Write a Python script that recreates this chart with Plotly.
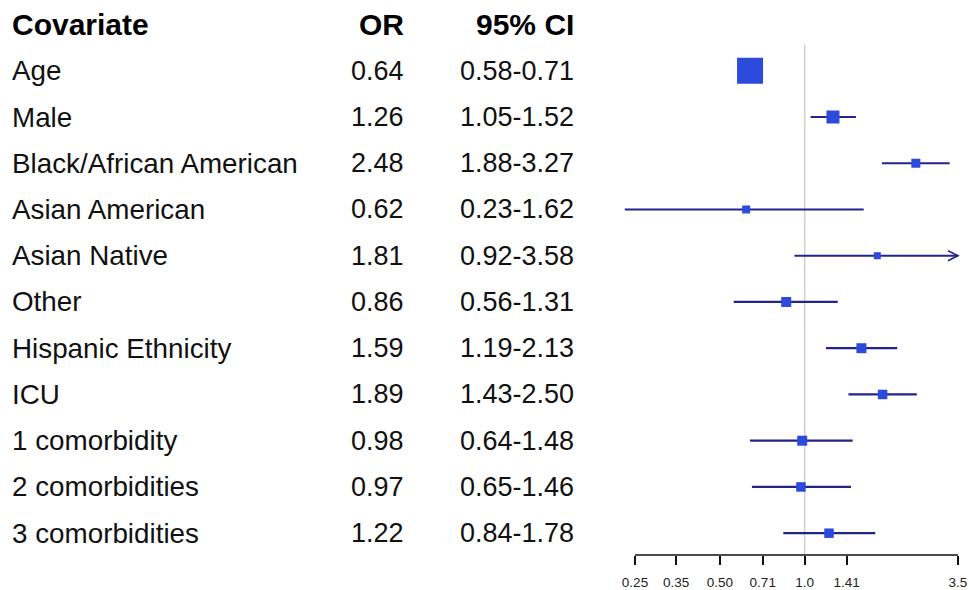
import math
import plotly.graph_objects as go

# ---- data ----
covariates = ["Age", "Male", "Black/African American", "Asian American", "Asian Native",
              "Other", "Hispanic Ethnicity", "ICU", "1 comorbidity", "2 comorbidities",
              "3 comorbidities"]
or_vals = [0.64, 1.26, 2.48, 0.62, 1.81, 0.86, 1.59, 1.89, 0.98, 0.97, 1.22]
ci_low = [0.58, 1.05, 1.88, 0.23, 0.92, 0.56, 1.19, 1.43, 0.64, 0.65, 0.84]
ci_high = [0.71, 1.52, 3.27, 1.62, 3.58, 1.31, 2.13, 2.50, 1.48, 1.46, 1.78]
tick_vals = [0.25, 0.35, 0.50, 0.71, 1.0, 1.41, 3.5]
tick_text = ["0.25", "0.35", "0.50", "0.71", "1.0", "1.41", "3.5"]
headers = ["Covariate", "OR", "95% CI"]

# ---- styles ----
marker_sizes = [26, 13, 9, 8, 7, 10, 10, 9.5, 10, 9.5, 9.5]
LINE_COLOR = "#23238c"
BOX_COLOR = "#2c4bdc"
FONT = "Liberation Sans, Arial, sans-serif"
W, H = 969, 590
col_font_sizes = [27.8, 27, 27]

# pixel layout of the forest panel
px_lo, px_hi = 635.0, 958.0          # pixel of first/last tick
x_min, x_max = 0.2, 3.8              # axis range (data)
ppl = (px_hi - px_lo) / (math.log10(tick_vals[-1]) - math.log10(tick_vals[0]))
dom_l = px_lo - ppl * (math.log10(tick_vals[0]) - math.log10(x_min))
dom_r = px_hi + ppl * (math.log10(x_max) - math.log10(tick_vals[-1]))

rows = list(range(len(covariates)))
clip_hi = tick_vals[-1]

# CI segments
seg_x, seg_y = [], []
for i, (lo, hi) in enumerate(zip(ci_low, ci_high)):
    seg_x += [lo, min(hi, clip_hi), None]
    seg_y += [i, i, None]

fig = go.Figure()
fig.add_trace(go.Scatter(x=seg_x, y=seg_y, mode="lines",
                         line=dict(color=LINE_COLOR, width=2.2),
                         hoverinfo="skip", showlegend=False, cliponaxis=False))
fig.add_trace(go.Scatter(x=or_vals, y=rows, mode="markers",
                         marker=dict(symbol="square", size=marker_sizes, color=BOX_COLOR,
                                     opacity=1, line=dict(width=0)),
                         showlegend=False, cliponaxis=False))

shapes = []
# reference line at 1
shapes.append(dict(type="line", xref="x", yref="y", x0=1, x1=1, y0=-0.56, y1=10.5,
                   line=dict(color="#cfcfcf", width=1.5), layer="below"))
# axis line from first to last tick
shapes.append(dict(type="line", xref="x", yref="y domain", x0=tick_vals[0], x1=tick_vals[-1],
                   y0=0, y1=0, line=dict(color="#111", width=1.5)))
# arrow heads for clipped CIs
for i, hi in enumerate(ci_high):
    if hi > clip_hi:
        shapes.append(dict(type="path", xref="x", yref="y", xsizemode="pixel",
                           ysizemode="pixel", xanchor=clip_hi, yanchor=i,
                           path="M -10,-5 L 0,0 L -10,5",
                           line=dict(color=LINE_COLOR, width=1.6)))

annotations = []
hx = [10, 406, 576]
for j, (h, x) in enumerate(zip(headers, hx)):
    annotations.append(dict(text="<b>%s</b>" % h, x=x / W, xref="paper", y=-1, yref="y",
                            xanchor="left" if j == 0 else "right", yanchor="middle",
                            showarrow=False, font=dict(family=FONT, size=30, color="#000")))
for i, name in enumerate(covariates):
    vals = [name, "%.2f" % or_vals[i], "%.2f-%.2f" % (ci_low[i], ci_high[i])]
    for j, (v, x) in enumerate(zip(vals, hx)):
        annotations.append(dict(text=v, x=x / W, xref="paper", y=i, yref="y",
                                xanchor="left" if j == 0 else "right", yanchor="middle",
                                showarrow=False,
                                font=dict(family=FONT, size=col_font_sizes[j], color="#111")))

axis_px = 557.0
row0_px, row_step = 71.0, 46.4
y_bottom = (axis_px - row0_px) / row_step
y_top = (0 - row0_px) / row_step

fig.update_layout(
    width=W, height=H, margin=dict(l=0, r=0, t=0, b=0),
    plot_bgcolor="white", paper_bgcolor="white",
    xaxis=dict(type="log", range=[math.log10(x_min), math.log10(x_max)],
               domain=[dom_l / W, dom_r / W], tickvals=tick_vals, ticktext=tick_text,
               ticks="outside", ticklen=9, tickwidth=1.5, tickcolor="#111",
               ticklabelstandoff=6,
               showline=False, showgrid=False, zeroline=False,
               tickfont=dict(family=FONT, size=13.5, color="#222")),
    yaxis=dict(range=[y_bottom, y_top], domain=[(H - axis_px) / H, 1],
               visible=False, showgrid=False, zeroline=False),
    shapes=shapes, annotations=annotations,
)

fig.write_html("out.html", post_script="document.body.style.margin='0px';",
               config={"displayModeBar": False})
